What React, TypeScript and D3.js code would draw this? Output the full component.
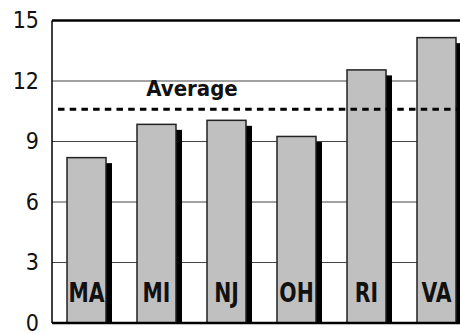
import React from "react";
import * as d3 from "d3";

const states = ["MA", "MI", "NJ", "OH", "RI", "VA"];
const values = [8.2, 9.85, 10.05, 9.25, 12.55, 14.15];
const averageValue = 10.6;
const yTicks = [0, 3, 6, 9, 12, 15];

const W = 460;
const H = 333;
const plotLeft = 52;
const plotRight = 460;
const y0 = 323;
const yTop = 20.5;
const FONT = "'DejaVu Sans Condensed', 'DejaVu Sans', sans-serif";

export default function App() {
  const y = d3.scaleLinear().domain([0, 15]).range([y0, yTop]);
  const x = d3
    .scaleBand<string>()
    .domain(states)
    .range([67, 456])
    .paddingInner(31 / 70)
    .paddingOuter(0);
  const bw = x.bandwidth();
  const shadowDx = 6;
  const shadowDy = 5.5;

  return (
    <svg
      width={W}
      height={H}
      style={{ position: "absolute", left: 0, top: 0, background: "#fff" }}
      fontFamily={FONT}
    >
      {/* grid lines */}
      {yTicks
        .filter((t) => t > 0 && t < 15)
        .map((t) => (
          <line
            key={t}
            x1={plotLeft}
            x2={plotRight}
            y1={y(t)}
            y2={y(t)}
            stroke="#444"
            strokeWidth={1}
          />
        ))}

      {/* bars with drop shadows */}
      {states.map((s, i) => {
        const bx = x(s)!;
        const top = y(values[i]);
        return (
          <g key={s}>
            <rect
              x={bx + shadowDx}
              y={top + shadowDy}
              width={bw}
              height={y0 - top - shadowDy}
              fill="#000"
            />
            <rect
              x={bx}
              y={top}
              width={bw}
              height={y0 - top}
              fill="#c0c0c0"
              stroke="#222"
              strokeWidth={1.5}
            />
            <g transform={`translate(${bx + bw / 2},302) scale(0.84,1)`}>
              <text
                x={0}
                y={0}
                textAnchor="middle"
                fontSize={27}
                fontWeight="bold"
                fill="#111"
              >
                {s}
              </text>
            </g>
          </g>
        );
      })}

      {/* average line */}
      <line
        x1={58}
        x2={plotRight}
        y1={y(averageValue)}
        y2={y(averageValue)}
        stroke="#000"
        strokeWidth={3}
        strokeDasharray="6.5 5.2"
      />
      <text
        x={192}
        y={96}
        textAnchor="middle"
        fontSize={22}
        fontWeight="bold"
        fill="#111"
      >
        Average
      </text>

      {/* axes */}
      <line x1={plotLeft} x2={plotLeft} y1={yTop} y2={y0} stroke="#000" strokeWidth={1.5} />
      <line x1={plotLeft} x2={plotRight} y1={yTop} y2={yTop} stroke="#000" strokeWidth={2.5} />
      <line x1={plotLeft} x2={plotRight} y1={y0} y2={y0} stroke="#000" strokeWidth={2.5} />

      {yTicks.map((t) => (
        <text
          key={t}
          x={39}
          y={y(t)}
          dy="0.34em"
          textAnchor="end"
          fontSize={23}
          fill="#111"
        >
          {t}
        </text>
      ))}
    </svg>
  );
}
